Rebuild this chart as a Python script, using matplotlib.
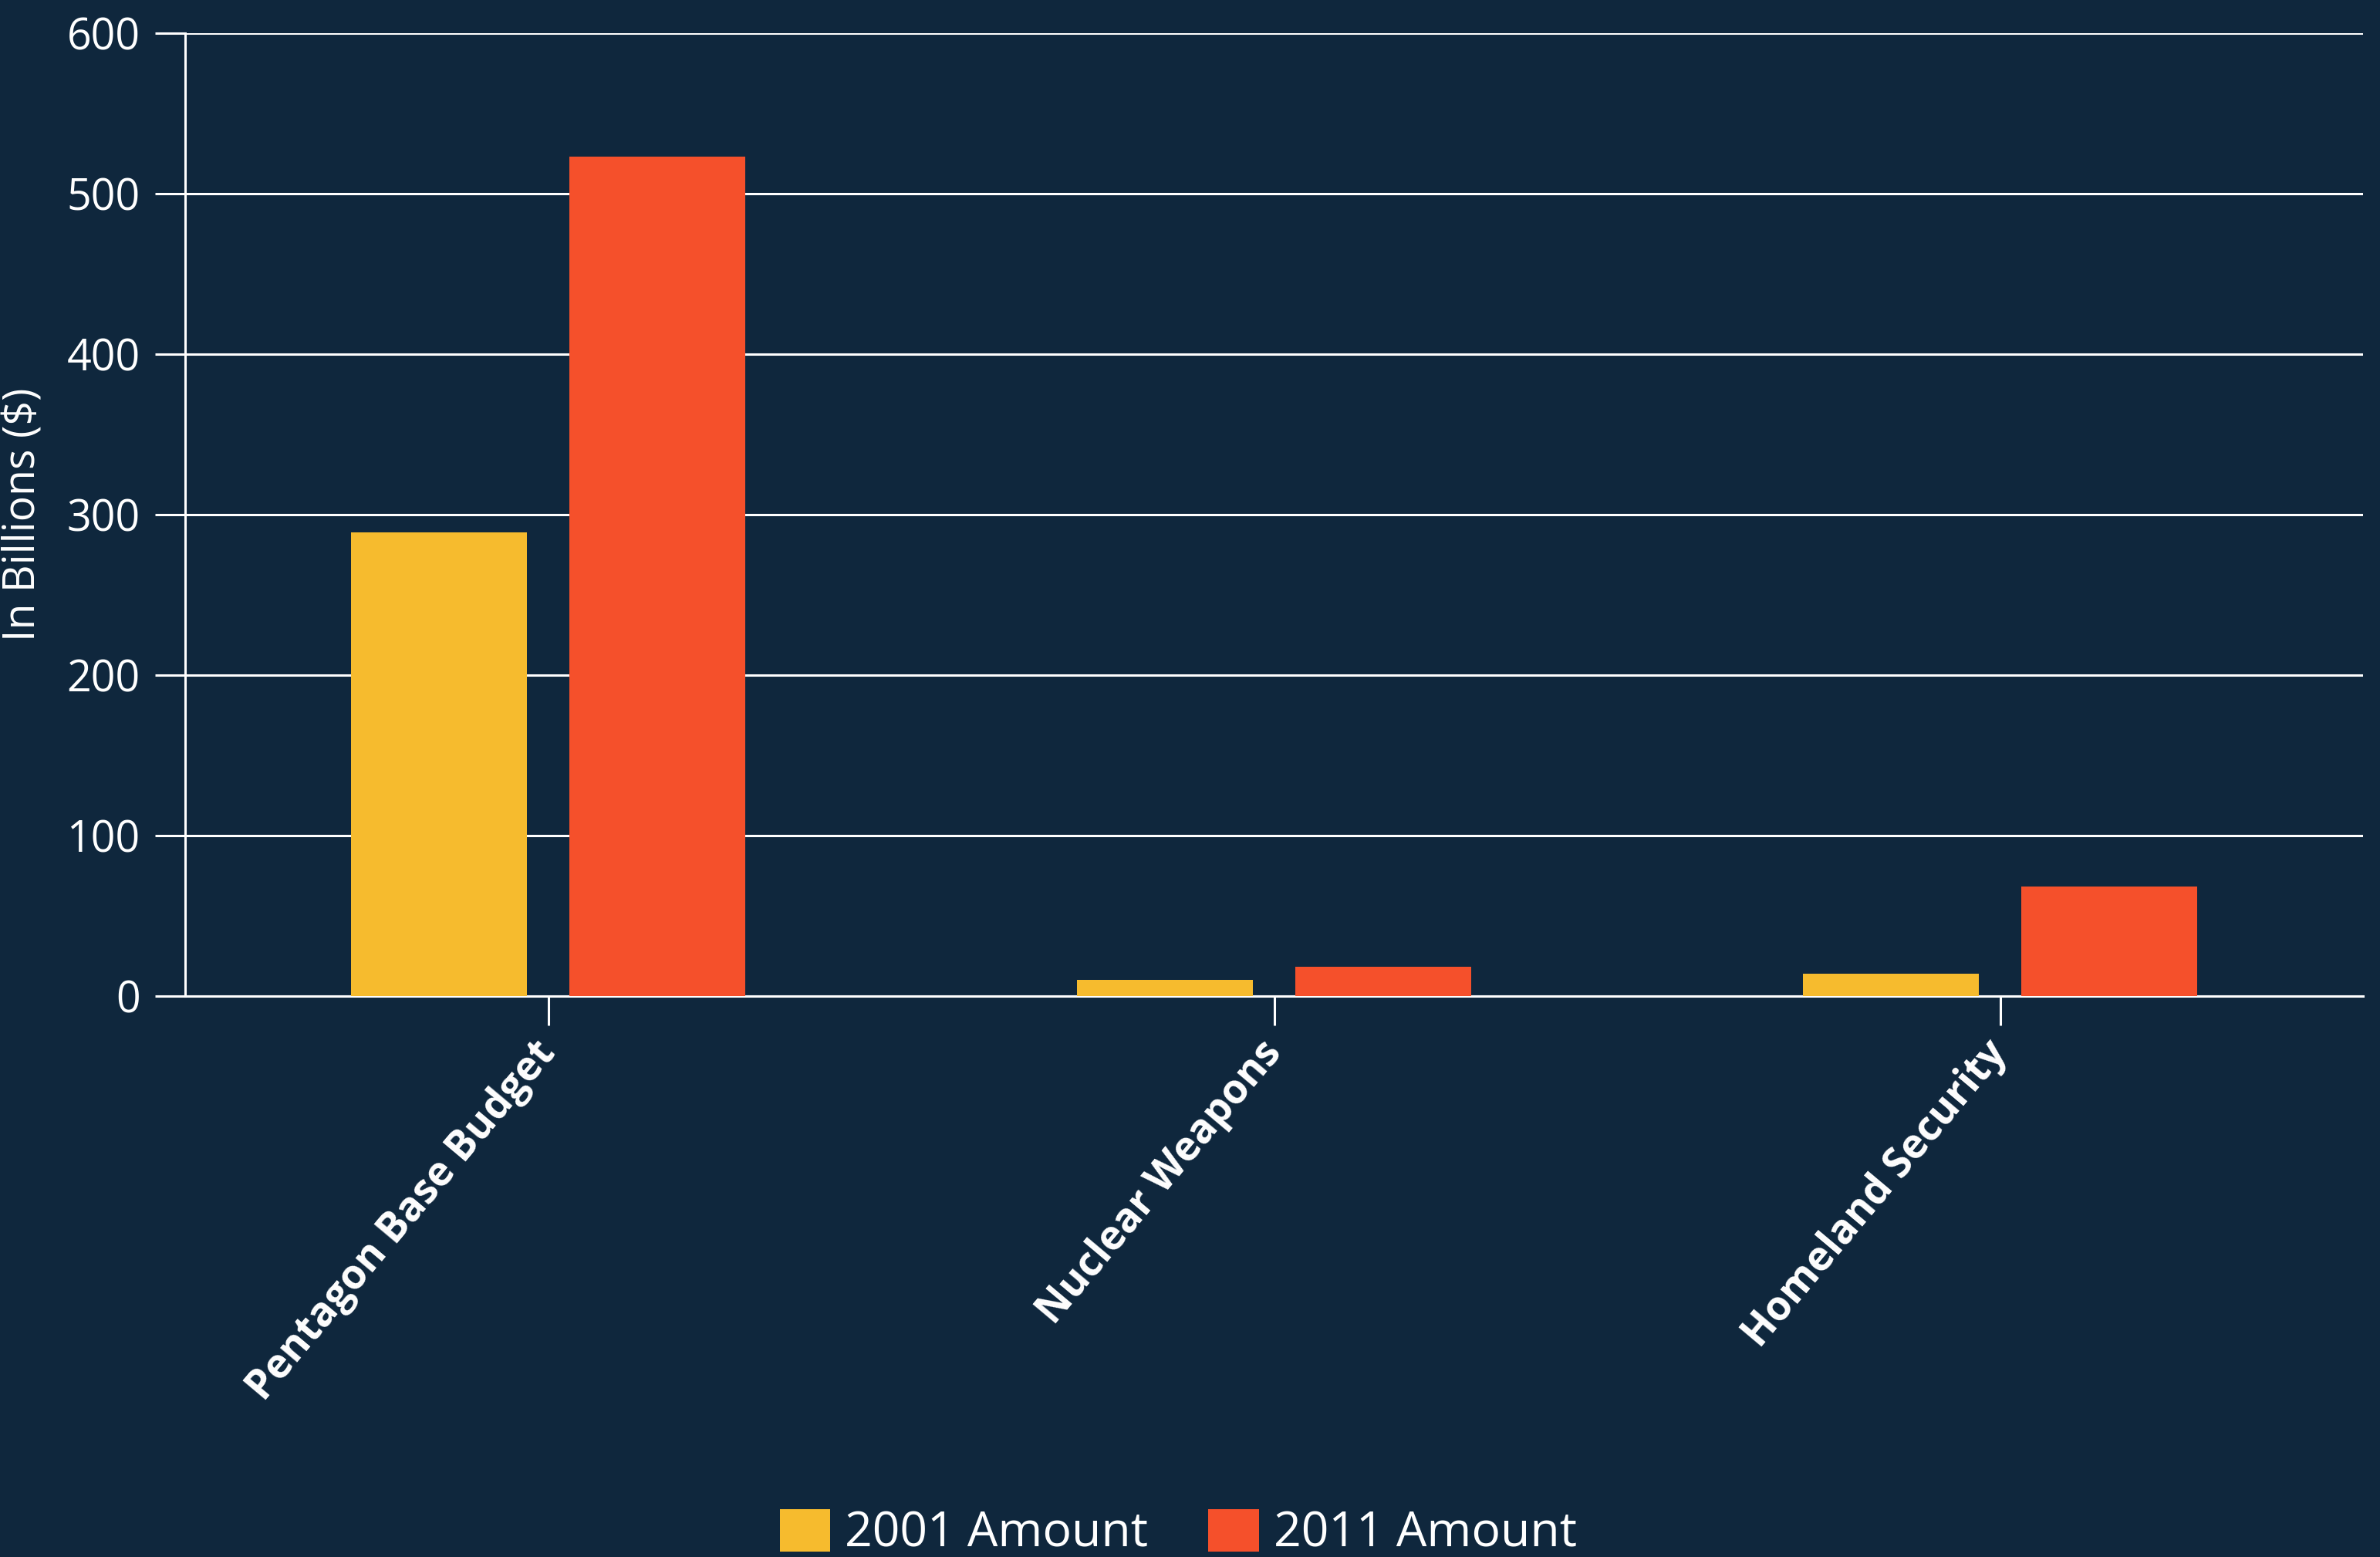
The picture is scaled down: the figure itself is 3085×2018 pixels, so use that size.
import matplotlib.pyplot as plt
import numpy as np

categories = ['Pentagon Base Budget', 'Nuclear Weapons', 'Homeland Security']
amount_2001 = [289, 10, 14]
amount_2011 = [523, 18, 68]
series_labels = ['2001 Amount', '2011 Amount']
y_ticks = [0, 100, 200, 300, 400, 500, 600]

BG = '#0F273D'
YELLOW = '#F6BB2E'
RED = '#F5502B'
FG = 'white'

plt.rcParams['font.family'] = ['Open Sans', 'DejaVu Sans']

fig = plt.figure(figsize=(15.425, 10.09), dpi=200, facecolor=BG)
ax = fig.add_axes([0.0778, 0.3603, 0.9151, 0.6184])
ax.set_facecolor(BG)

x = np.arange(len(categories))
w = 0.2427
off = 0.1506
ax.bar(x - off, amount_2001, w, color=YELLOW, label=series_labels[0], zorder=3)
ax.bar(x + off, amount_2011, w, color=RED, label=series_labels[1], zorder=3)

ax.set_xlim(-0.5, 2.5)
ax.set_ylim(0, 600)
ax.set_yticks(y_ticks)
ax.set_yticklabels([str(t) for t in y_ticks], fontsize=20, color=FG)
ax.set_xticks(x)
ax.set_xticklabels(categories, fontsize=19, fontweight='bold', color=FG,
                   rotation=50, ha='right', va='center', rotation_mode='anchor')

ax.grid(axis='y', color=FG, linewidth=1.1, zorder=0)
ax.set_axisbelow(True)
ax.tick_params(axis='y', length=14, width=1.1, color=FG, pad=7)
ax.tick_params(axis='x', length=13.5, width=1.1, color=FG, pad=10)

for s in ['top', 'right']:
    ax.spines[s].set_visible(False)
for s in ['left', 'bottom']:
    ax.spines[s].set_color(FG)
    ax.spines[s].set_linewidth(1.1)

ax.set_ylabel('In Billions ($)', fontsize=20, color=FG)
ax.yaxis.set_label_coords(-0.064, 0.5)

fig.legend(loc='center', bbox_to_anchor=(0.495, 0.015), ncol=2, frameon=False,
           fontsize=22.5, labelcolor=FG, handlelength=1.05, handleheight=1.0,
           handletextpad=0.3, columnspacing=1.25)

plt.savefig('out.png', facecolor=BG)
